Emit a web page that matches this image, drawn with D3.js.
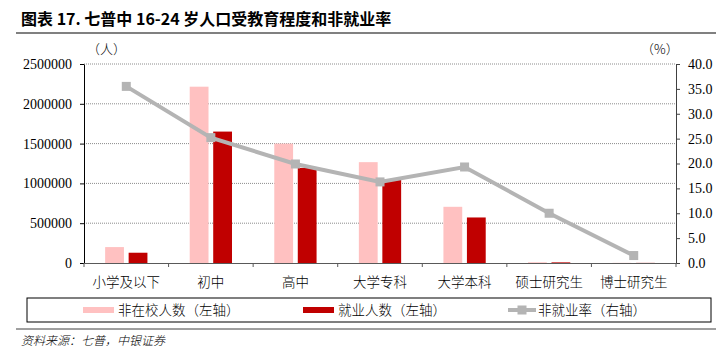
<!DOCTYPE html>
<html>
<head>
<meta charset="utf-8">
<script src="https://cdn.jsdelivr.net/npm/d3@7"></script>
<style>
  body { margin: 0; background: #fff; }
  svg { display: block; }
  .cn { font-family: "Noto Sans CJK SC", sans-serif; }
  .num { font-family: "Liberation Serif", "Times New Roman", serif; }
</style>
</head>
<body>
<div id="chart"></div>
<script>
// Data
const categories = ["小学及以下", "初中", "高中", "大学专科", "大学本科", "硕士研究生", "博士研究生"];
const notInSchool = [200000, 2215000, 1500000, 1267000, 706000, 9000, 2000];   // 非在校人数
const employed = [129000, 1651000, 1195000, 1045000, 572000, 8000, 1500];      // 就业人数
const unemploymentRate = [35.5, 25.2, 19.9, 16.3, 19.3, 10.0, 1.5];           // 非就业率 (%)
const leftTicks = [0, 500000, 1000000, 1500000, 2000000, 2500000];
const rightTicks = [0, 5, 10, 15, 20, 25, 30, 35, 40];

const width = 716, height = 351;
const plot = {left: 84, right: 676, top: 64, bottom: 263};

const svg = d3.select("#chart").append("svg")
    .attr("width", width)
    .attr("height", height);

// Title and the rule under it
svg.append("text")
    .attr("class", "cn")
    .attr("x", 21).attr("y", 25)
    .style("font-size", "16px")
    .style("font-weight", "bold")
    .attr("fill", "#000")
    .text("图表 17. 七普中 16-24 岁人口受教育程度和非就业率");
svg.append("line")
    .attr("x1", 16).attr("x2", width)
    .attr("y1", 33).attr("y2", 33)
    .attr("stroke", "#808080").attr("stroke-width", 2);

// Scales
const x = d3.scaleBand()
    .domain(categories)
    .range([plot.left, plot.right]);
const bw = x.bandwidth();
const xInner = d3.scaleBand()
    .domain(["a", "b"])
    .range([bw * 0.25, bw * 0.75])
    .paddingInner(0.2);
const yLeft = d3.scaleLinear().domain([0, 2500000]).range([plot.bottom, plot.top]);
const yRight = d3.scaleLinear().domain([0, 40]).range([plot.bottom, plot.top]);

// Gridlines (dotted, from left axis)
svg.append("g")
    .selectAll("line")
    .data(leftTicks.filter(d => d > 0))
    .enter().append("line")
        .attr("x1", plot.left).attr("x2", plot.right)
        .attr("y1", d => yLeft(d)).attr("y2", d => yLeft(d))
        .attr("stroke", "#8c8c8c")
        .attr("stroke-dasharray", "1,1");

// Bars
svg.append("g").selectAll("rect")
    .data(categories)
    .enter().append("rect")
        .attr("x", d => x(d) + xInner("a"))
        .attr("width", xInner.bandwidth())
        .attr("y", (d, i) => yLeft(notInSchool[i]))
        .attr("height", (d, i) => yLeft(0) - yLeft(notInSchool[i]))
        .attr("fill", "#ffc1c1");
svg.append("g").selectAll("rect")
    .data(categories)
    .enter().append("rect")
        .attr("x", d => x(d) + xInner("b"))
        .attr("width", xInner.bandwidth())
        .attr("y", (d, i) => yLeft(employed[i]))
        .attr("height", (d, i) => yLeft(0) - yLeft(employed[i]))
        .attr("fill", "#c00000");

// Line on right axis
const line = d3.line()
    .x((d, i) => x(categories[i]) + bw / 2)
    .y(d => yRight(d));
svg.append("path")
    .datum(unemploymentRate)
    .attr("d", line)
    .attr("fill", "none")
    .attr("stroke", "#b4b4b4")
    .attr("stroke-width", 4);
svg.append("g").selectAll("rect")
    .data(unemploymentRate)
    .enter().append("rect")
        .attr("x", (d, i) => x(categories[i]) + bw / 2 - 4.5)
        .attr("y", d => yRight(d) - 4.5)
        .attr("width", 9).attr("height", 9)
        .attr("fill", "#b4b4b4");

// Left axis
const gLeft = svg.append("g")
    .attr("transform", "translate(" + plot.left + ",0)")
    .call(d3.axisLeft(yLeft).tickValues(leftTicks).tickSize(4).tickSizeOuter(0).tickFormat(d3.format("d")));
gLeft.select(".domain").attr("stroke", "#000");
gLeft.selectAll("line").attr("stroke", "#000");
gLeft.selectAll("text")
    .attr("class", "num")
    .attr("x", -12)
    .style("font-size", "14px")
    .attr("fill", "#000");

// Right axis
const gRight = svg.append("g")
    .attr("transform", "translate(" + plot.right + ",0)")
    .call(d3.axisRight(yRight).tickValues(rightTicks).tickSize(4).tickSizeOuter(0).tickFormat(d3.format(".1f")));
gRight.select(".domain").attr("stroke", "#404040");
gRight.selectAll("line").attr("stroke", "#404040");
gRight.selectAll("text")
    .attr("class", "num")
    .attr("x", 12)
    .style("font-size", "14px")
    .attr("fill", "#000");

// Bottom axis: labels at band centres, ticks at band edges
const gBottom = svg.append("g")
    .attr("transform", "translate(0," + plot.bottom + ")")
    .call(d3.axisBottom(x).tickSize(0).tickPadding(14));
gBottom.select(".domain").attr("stroke", "#595959");
gBottom.selectAll("text")
    .attr("class", "cn")
    .style("font-size", "13.5px")
    .style("font-weight", "300")
    .attr("fill", "#000");
gBottom.selectAll(".edge")
    .data(categories.concat([null]))
    .enter().append("line")
        .attr("class", "edge")
        .attr("x1", d => d === null ? plot.right : x(d))
        .attr("x2", d => d === null ? plot.right : x(d))
        .attr("y1", 0).attr("y2", 4)
        .attr("stroke", "#595959");

// Unit labels
svg.append("text").attr("class", "cn")
    .attr("x", 87).attr("y", 54)
    .style("font-size", "13px").style("font-weight", "300")
    .text("（人）");
svg.append("text").attr("class", "cn")
    .attr("x", 641).attr("y", 54)
    .style("font-size", "13px").style("font-weight", "300")
    .text("（%）");

// Legend
svg.append("rect")
    .attr("x", 27).attr("y", 298)
    .attr("width", 684).attr("height", 24)
    .attr("fill", "none").attr("stroke", "#000");
const legendItems = [
    {label: "非在校人数（左轴）", x: 83, type: "bar", color: "#ffc1c1"},
    {label: "就业人数（左轴）", x: 303, type: "bar", color: "#c00000"},
    {label: "非就业率（右轴）", x: 508, type: "line", color: "#b4b4b4"}
];
const lg = svg.append("g").selectAll("g")
    .data(legendItems)
    .enter().append("g")
        .attr("transform", d => "translate(" + d.x + ",310)");
lg.filter(d => d.type === "bar").append("rect")
    .attr("x", 0).attr("y", -3).attr("width", 31).attr("height", 6)
    .attr("fill", d => d.color);
lg.filter(d => d.type === "line").append("line")
    .attr("x1", 0).attr("x2", 28).attr("y1", 0).attr("y2", 0)
    .attr("stroke", d => d.color).attr("stroke-width", 4);
lg.filter(d => d.type === "line").append("rect")
    .attr("x", 9.5).attr("y", -4.5).attr("width", 9).attr("height", 9)
    .attr("fill", d => d.color);
lg.append("text")
    .attr("class", "cn")
    .attr("x", d => d.type === "line" ? 30 : 35)
    .attr("dy", "0.35em")
    .style("font-size", "13.5px").style("font-weight", "300")
    .text(d => d.label);

// Footer
svg.append("line")
    .attr("x1", 16).attr("x2", width)
    .attr("y1", 329).attr("y2", 329)
    .attr("stroke", "#404040").attr("stroke-width", 1);
svg.append("text")
    .attr("class", "cn")
    .attr("x", 21).attr("y", 345)
    .style("font-size", "12px").style("font-style", "italic").style("font-weight", "300")
    .text("资料来源：七普，中银证券");
</script>
</body>
</html>
